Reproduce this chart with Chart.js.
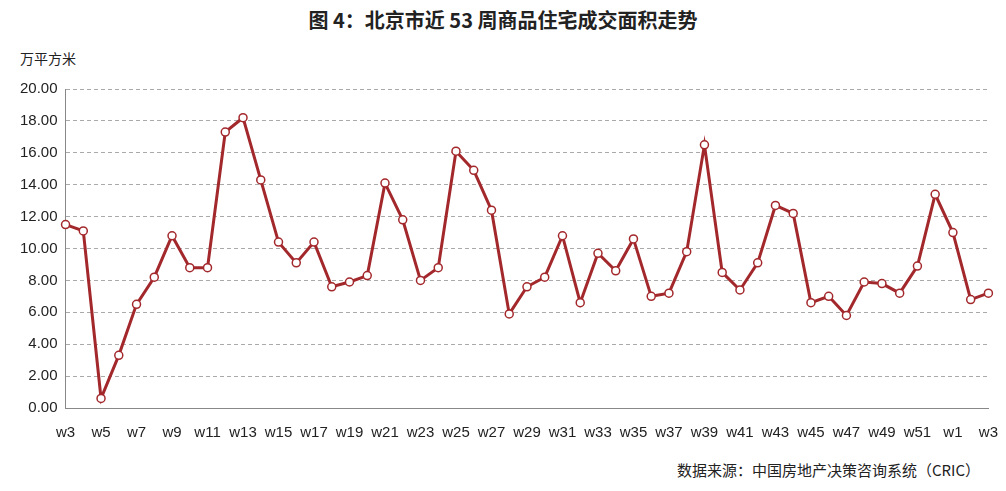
<!DOCTYPE html>
<html><head><meta charset="utf-8">
<script src="https://cdn.jsdelivr.net/npm/chart.js@4"></script>
<style>
body{margin:0;background:#fff;font-family:"Noto Sans CJK SC","Noto Sans",sans-serif;}
#wrap{position:relative;width:1006px;height:491px;}
#title{position:absolute;top:5px;left:0;width:1006px;text-align:center;font-size:20px;font-weight:bold;color:#222;}
#unit{position:absolute;top:48px;left:20px;font-size:14px;color:#222;}
#src{position:absolute;top:459px;right:26px;font-size:15px;color:#222;}
#c{position:absolute;left:0;top:70px;}
</style></head><body>
<div id="wrap">
<div id="title">图 4：北京市近 53 周商品住宅成交面积走势</div>
<div id="unit">万平方米</div>
<canvas id="c" width="1006" height="380" style="width:1006px;height:380px"></canvas>
<div id="src">数据来源：中国房地产决策咨询系统（CRIC）</div>
</div>
<script>
const weeks=['w3','w4','w5','w6','w7','w8','w9','w10','w11','w12','w13','w14','w15','w16','w17','w18','w19','w20','w21','w22','w23','w24','w25','w26','w27','w28','w29','w30','w31','w32','w33','w34','w35','w36','w37','w38','w39','w40','w41','w42','w43','w44','w45','w46','w47','w48','w49','w50','w51','w52','w1','w2','w3'];
const area=[11.5,11.1,0.6,3.3,6.5,8.2,10.8,8.8,8.8,17.3,18.2,14.3,10.4,9.1,10.4,7.6,7.9,8.3,14.1,11.8,8.0,8.8,16.1,14.9,12.4,5.9,7.6,8.2,10.8,6.6,9.7,8.6,10.6,7.0,7.2,9.8,16.5,8.5,7.4,9.1,12.7,12.2,6.6,7.0,5.8,7.9,7.8,7.2,8.9,13.4,11.0,6.8,7.2];
const leftGap={id:'lg',afterDataLimits(){}};
new Chart(document.getElementById('c'),{type:'line',
data:{labels:weeks,datasets:[{data:area,borderColor:'#a3282c',borderWidth:3,pointRadius:4,pointBackgroundColor:'#fff',pointBorderColor:'#a3282c',pointBorderWidth:1.5,tension:0}]},
options:{responsive:false,animation:false,layout:{padding:{left:12,right:6,top:19,bottom:0}},
plugins:{legend:{display:false},tooltip:{enabled:false}},
scales:{x:{offset:false,grid:{display:false},border:{color:'#888',width:1},
ticks:{autoSkip:false,maxRotation:0,color:'#222',font:{size:15},padding:8,callback:(v,i)=>i%2===0?weeks[i]:''}},
y:{min:0,max:20,grid:{color:'#aaa',drawTicks:false},border:{color:'#888',dash:[4,3]},
ticks:{stepSize:2,color:'#222',font:{size:15},padding:8,callback:v=>v.toFixed(2)}}}}});
</script></body></html>
